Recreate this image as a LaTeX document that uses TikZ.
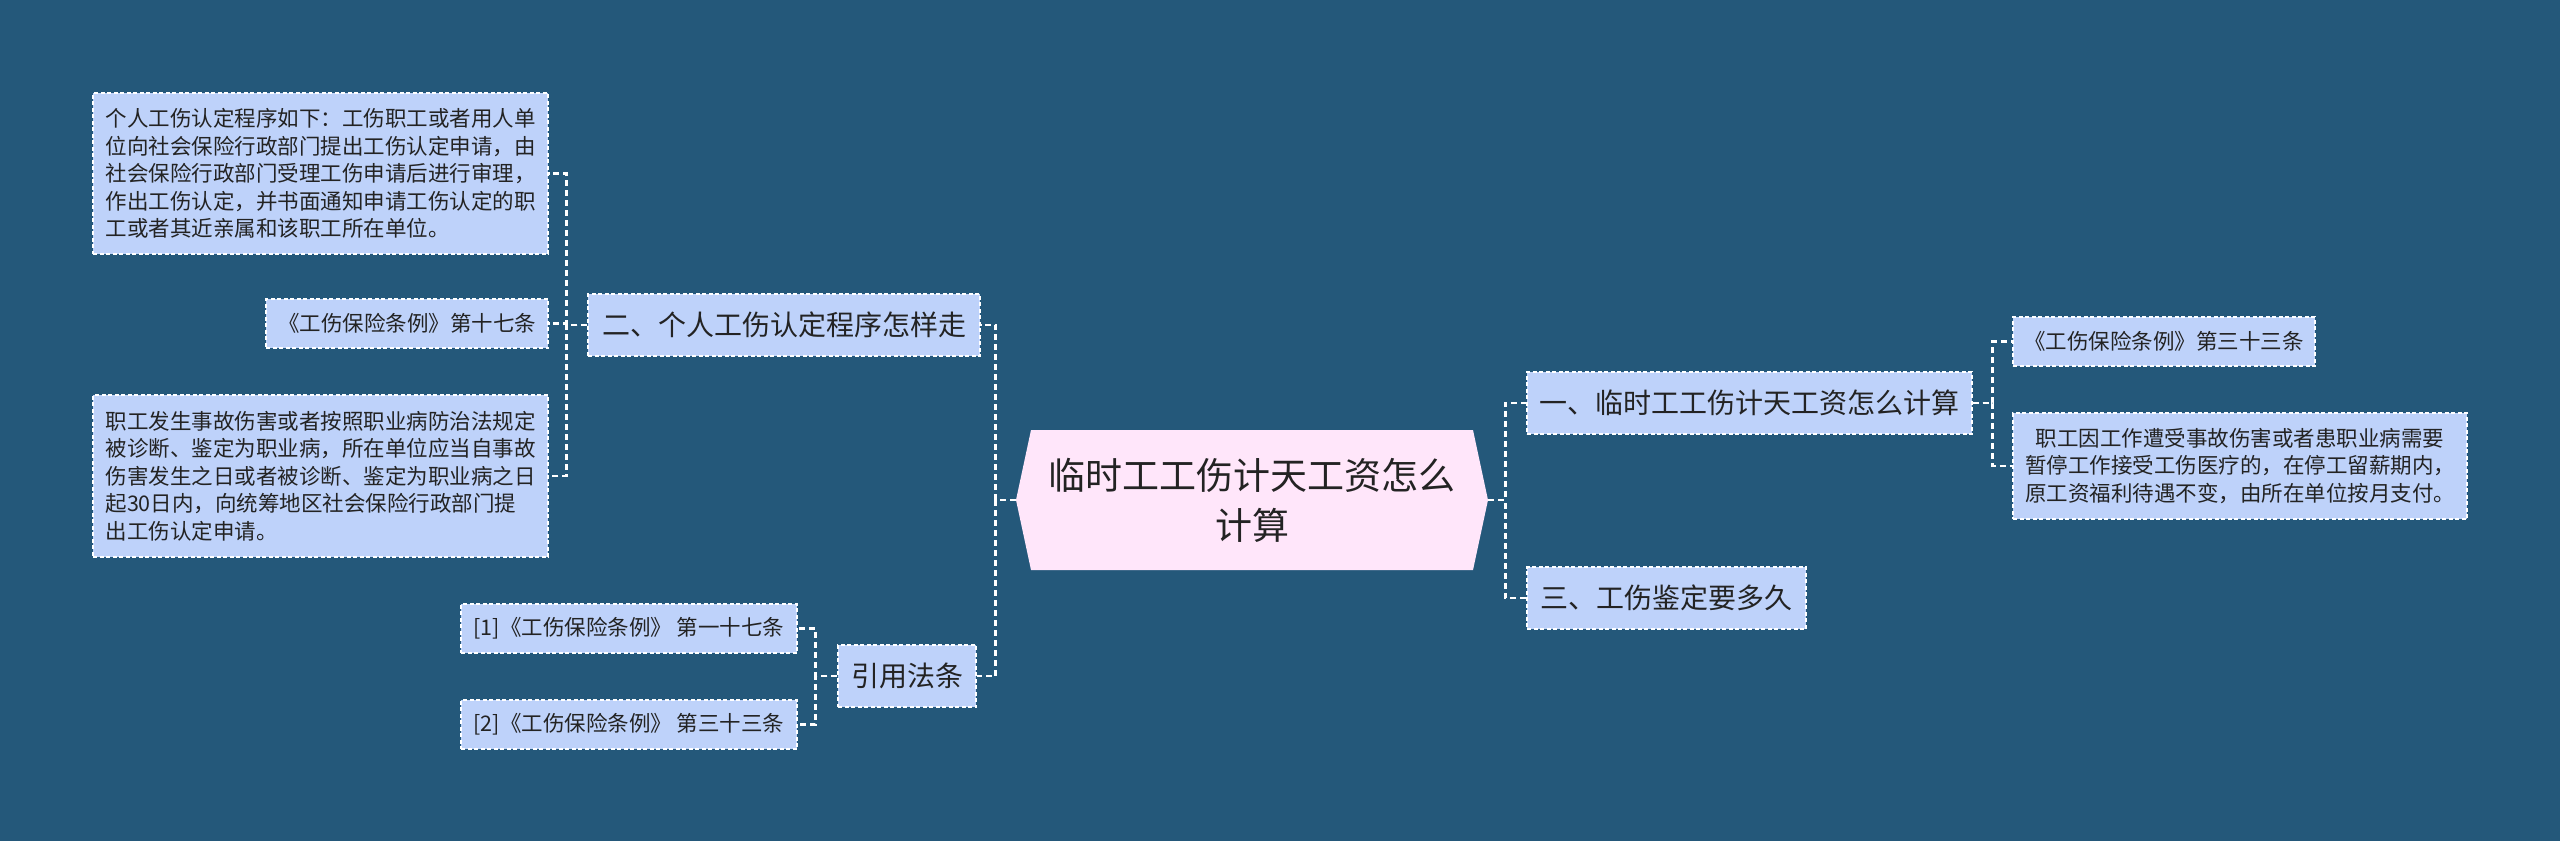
\documentclass[tikz,border=0pt]{standalone}
\usepackage{fontspec}
\usepackage{xcolor}
\usepackage{tikz}
\usetikzlibrary{positioning, calc}

\newfontfamily\cjk{Noto Sans CJK SC}
\definecolor{canvasblue}{RGB}{36,88,122}
\definecolor{boxblue}{RGB}{190,210,250}
\definecolor{rootpink}{RGB}{255,230,250}
\definecolor{inkgray}{RGB}{35,35,35}

\begin{document}
\begin{tikzpicture}[x=1pt,y=-1pt,
    link/.style={draw=white, line width=2.8pt, dash pattern=on 6pt off 4pt},
    frame/.style={fill=boxblue, draw=white, line width=1.4pt, dash pattern=on 4pt off 2.5pt, text=inkgray, inner sep=0pt},
    topic/.style={frame, font=\cjk\fontsize{28}{34}\selectfont, minimum height=62pt},
    leaf/.style={frame, font=\cjk\fontsize{21.5}{27.5}\selectfont, align=left},
    root/.style={font=\cjk\fontsize{37}{50}\selectfont, align=center, text=inkgray,
                 minimum width=472pt, minimum height=140pt, inner sep=0pt}]

    % Canvas
    \fill[canvasblue] (0,0) rectangle (2560,841);
    \useasboundingbox (0,0) rectangle (2560,841);

    % Central topic (hexagon)
    \fill[rootpink]
        (1016,500) -- (1031,430) -- (1473,430) -- (1488,500) -- (1473,570) -- (1031,570) -- cycle;
    \node[root] (root) at (1252,500) {临时工工伤计天工资怎么\\计算};

    % Left branches
    \node[topic, minimum width=392pt] (procedure) at (784,325) {二、个人工伤认定程序怎样走};
    \node[topic, minimum width=138pt] (citations) at (907,676) {引用法条};

    \node[leaf, minimum width=455pt, minimum height=161pt] (steps) at (320.5,173.5)
        {个人工伤认定程序如下：工伤职工或者用人单\\位向社会保险行政部门提出工伤认定申请，由\\社会保险行政部门受理工伤申请后进行审理，\\作出工伤认定，并书面通知申请工伤认定的职\\工或者其近亲属和该职工所在单位。};
    \node[leaf, minimum width=282pt, minimum height=49pt] (art17) at (407,323.5) {《工伤保险条例》第十七条};
    \node[leaf, minimum width=455pt, minimum height=162pt] (deadline) at (320.5,476)
        {职工发生事故伤害或者按照职业病防治法规定\\被诊断、鉴定为职业病，所在单位应当自事故\\伤害发生之日或者被诊断、鉴定为职业病之日\\起30日内，向统筹地区社会保险行政部门提\\出工伤认定申请。};

    \node[leaf, minimum width=336pt, minimum height=49pt] (cite1) at (629,628.5) {[1]《工伤保险条例》 第一十七条};
    \node[leaf, minimum width=336pt, minimum height=49pt] (cite2) at (629,724.5) {[2]《工伤保险条例》 第三十三条};

    % Right branches
    \node[topic, minimum width=445pt] (wages) at (1749.5,403) {一、临时工工伤计天工资怎么计算};
    \node[topic, minimum width=279pt] (appraisal) at (1666.5,598) {三、工伤鉴定要多久};

    \node[leaf, minimum width=302pt, minimum height=49pt] (art33) at (2164,341.5) {《工伤保险条例》第三十三条};
    \node[leaf, minimum width=454pt, minimum height=106pt] (payment) at (2240,466)
        {\hspace*{0.5em}职工因工作遭受事故伤害或者患职业病需要\\暂停工作接受工伤医疗的，在停工留薪期内，\\原工资福利待遇不变，由所在单位按月支付。};

    % Connectors
    \draw[link] (root.west) -- ++(-20,0) |- (procedure.east);
    \draw[link] (root.west) -- ++(-20,0) |- (citations.east);
    \draw[link] (root.east) -- ++(17,0) |- (wages.west);
    \draw[link] (root.east) -- ++(17,0) |- (appraisal.west);

    \draw[link] (procedure.west) -- ++(-21,0) |- (steps.east);
    \draw[link] (procedure.west) -- ++(-21,0) |- (art17.east);
    \draw[link] (procedure.west) -- ++(-21,0) |- (deadline.east);

    \draw[link] (citations.west) -- ++(-22,0) |- (cite1.east);
    \draw[link] (citations.west) -- ++(-22,0) |- (cite2.east);

    \draw[link] (wages.east) -- ++(20,0) |- (art33.west);
    \draw[link] (wages.east) -- ++(20,0) |- (payment.west);
\end{tikzpicture}
\end{document}
